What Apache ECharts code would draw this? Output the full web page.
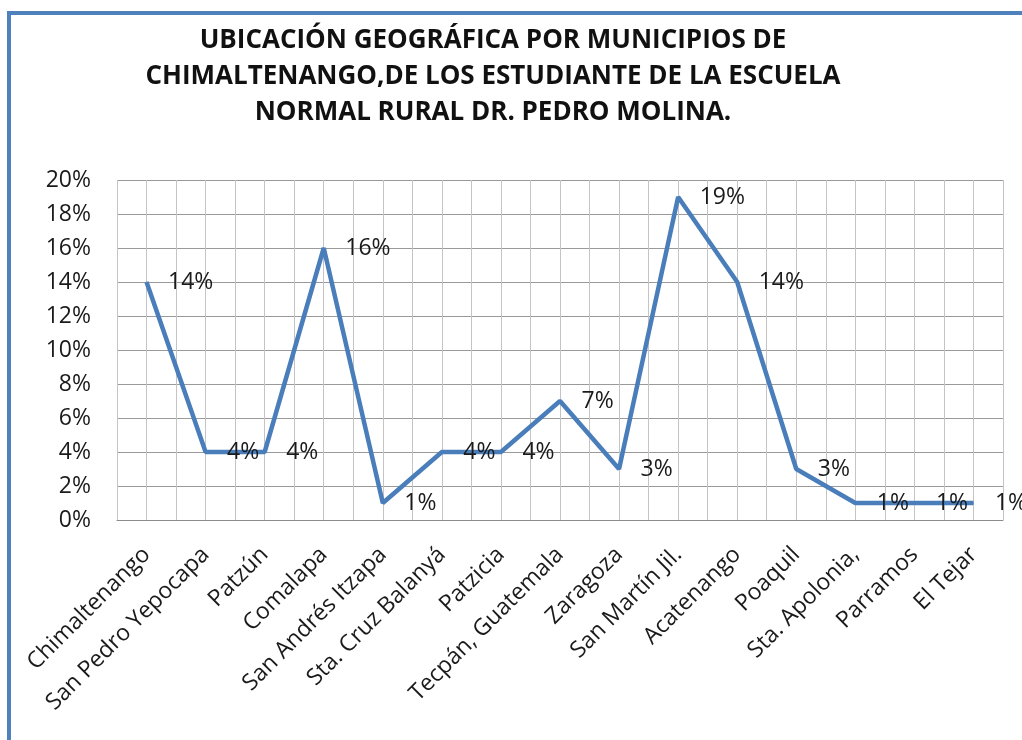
<!DOCTYPE html>
<html>
<head>
<meta charset="utf-8">
<script src="https://cdn.jsdelivr.net/npm/echarts@6/dist/echarts.min.js"></script>
<style>
  html, body { margin: 0; padding: 0; background: #fff; }
  #chart { width: 1022px; height: 740px; }
</style>
</head>
<body>
<div id="chart"></div>
<script>
// municipios y porcentaje de estudiantes
const municipios = [
  "Chimaltenango", "San Pedro Yepocapa", "Patzún", "Comalapa", "San Andrés Itzapa",
  "Sta. Cruz Balanyá", "Patzicia", "Tecpán, Guatemala", "Zaragoza", "San Martín Jil.",
  "Acatenango", "Poaquil", "Sta. Apolonia,", "Parramos", "El Tejar"
];
const porcentajes = [14, 4, 4, 16, 1, 4, 4, 7, 3, 19, 14, 3, 1, 1, 1];
const yTicks = [0, 2, 4, 6, 8, 10, 12, 14, 16, 18, 20];

const titulo = "UBICACIÓN GEOGRÁFICA POR MUNICIPIOS DE\nCHIMALTENANGO,DE LOS ESTUDIANTE DE LA ESCUELA\nNORMAL RURAL DR. PEDRO MOLINA.";

const font = "'Open Sans', 'DejaVu Sans', sans-serif";
const lineColor = "#4A7EBB";

const chart = echarts.init(document.getElementById("chart"));

chart.setOption({
  backgroundColor: "#fff",
  animation: false,
  title: {
    text: titulo,
    left: 488,
    textAlign: "center",
    top: 18,
    textStyle: {
      fontFamily: font,
      fontWeight: "bold",
      fontSize: 26,
      lineHeight: 36,
      color: "#111"
    }
  },
  graphic: [
    {
      type: "rect",
      shape: { x: 9, y: 13, width: 1100, height: 800 },
      style: { fill: "none", stroke: "#4F81BD", lineWidth: 4 },
      silent: true
    }
  ],
  grid: { left: 117, right: 19, top: 180, bottom: 220 },
  xAxis: [
    {
      type: "category",
      data: municipios,
      boundaryGap: true,
      axisTick: { show: false },
      axisLine: { lineStyle: { color: "#8c8c8c", width: 1 } },
      splitLine: { show: true, interval: 0, lineStyle: { color: "#8c8c8c", width: 1 } },
      axisLabel: {
        interval: 0,
        rotate: 45,
        margin: 31,
        fontFamily: font,
        fontSize: 23,
        color: "#1a1a1a"
      }
    },
    {
      // rejilla secundaria a mitad de cada categoría
      type: "category",
      data: new Array(municipios.length * 2).fill(""),
      boundaryGap: true,
      position: "bottom",
      axisLine: { show: false },
      axisTick: { show: false },
      axisLabel: { show: false },
      splitLine: { show: true, interval: 0, lineStyle: { color: "#c4c4c4", width: 1 } }
    }
  ],
  yAxis: {
    type: "value",
    min: yTicks[0],
    max: yTicks[yTicks.length - 1],
    interval: 2,
    axisLine: { show: false },
    axisTick: { show: false },
    splitLine: { lineStyle: { color: "#9a9a9a", width: 1 } },
    axisLabel: {
      formatter: "{value}%",
      margin: 26,
      fontFamily: font,
      fontSize: 23,
      color: "#1a1a1a"
    }
  },
  series: [
    {
      type: "line",
      xAxisIndex: 0,
      data: porcentajes,
      symbol: "circle",
      symbolSize: 1,
      z: 5,
      lineStyle: { color: lineColor, width: 4.5 },
      itemStyle: { color: lineColor },
      label: {
        show: true,
        position: "right",
        distance: 21,
        formatter: "{c}%",
        fontFamily: font,
        fontSize: 23,
        color: "#1a1a1a"
      }
    }
  ]
});
</script>
</body>
</html>
